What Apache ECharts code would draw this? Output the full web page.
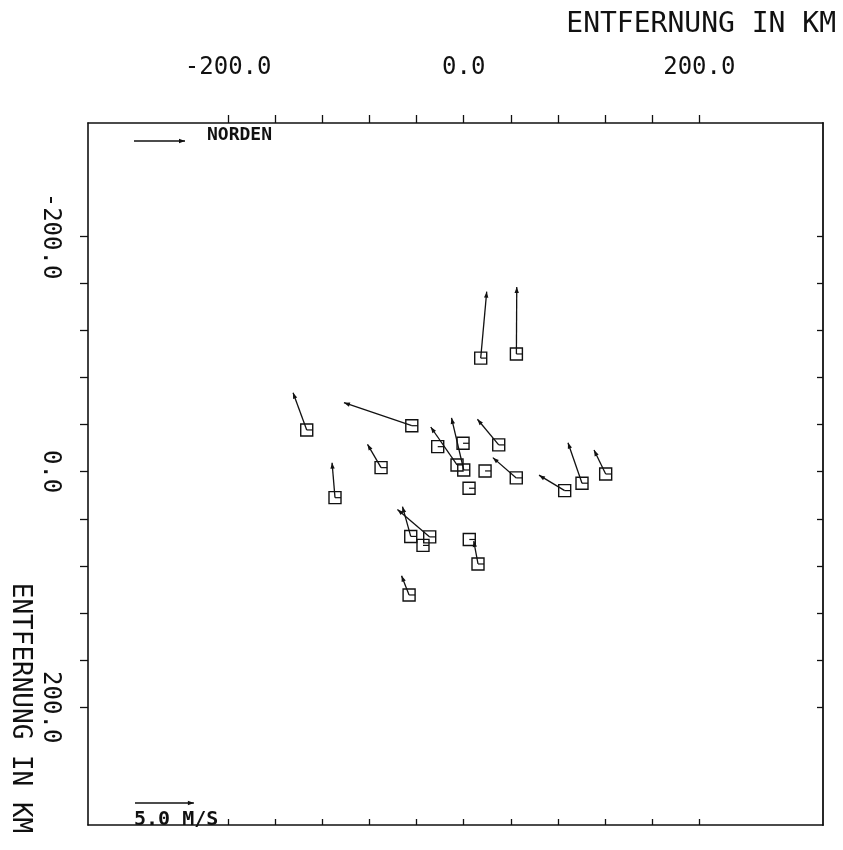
<!DOCTYPE html>
<html>
<head>
<meta charset="utf-8">
<title>Windvektoren</title>
<script src="https://cdn.jsdelivr.net/npm/echarts@6/dist/echarts.min.js"></script>
<style>
  html, body { margin: 0; padding: 0; background: #fff; }
  #chart { width: 843px; height: 850px; }
</style>
</head>
<body>
<div id="chart"></div>
<script>
// Station positions (km) in the plot frame; y grows downward.
const STATION_X = [14.4, 44.7, -133.3, -44.1, -22.1, -0.6, -5.7, 0.0, 29.7, 18.1, 4.5, 44.6,
                   85.7, 100.4, 120.5, -70.2, -109.3, -45.0, -28.9, -34.6, 4.7, 12.1, -46.4];
const STATION_Y = [-96.4, -99.9, -35.4, -39.0, -21.2, -24.1, -5.7, -1.4, -22.7, -0.6, 14.1, 5.3,
                   16.1, 9.8, 2.0, -3.4, 22.1, 55.0, 55.4, 62.6, 57.6, 78.4, 104.7];
// Wind components (m/s) along the plot's x and y axes.
const WIND_X = [0.51, 0.03, -1.16, -5.76, 0, 0, -2.23, -1.04, -1.81, 0, 0, -1.99,
                -2.18, -1.19, -0.99, -1.15, -0.25, -0.70, -2.74, 0, 0, -0.36, -0.64];
const WIND_Y = [-5.64, -5.68, -3.16, -1.95, 0, 0, -3.22, -4.43, -2.18, 0, 0, -1.72,
                -1.31, -3.44, -2.03, -1.98, -2.97, -2.53, -2.33, 0, 0, -1.95, -1.64];

// Axis ticks and labels (km)
const TICKS = [-200, -160, -120, -80, -40, 0, 40, 80, 120, 160, 200];
const TICK_LABELS = [-200, 0, 200];
const X_RANGE = [-319, 305];
const Y_RANGE = [-296, 300];

const AXIS_TITLE = 'ENTFERNUNG IN KM';
const KM_PER_MS = 10.0;     // arrow length: km per m/s
const SCALE_SPEED = 5.0;    // reference arrow speed (m/s)

const FONT = "'DejaVu Sans Mono', 'Liberation Mono', monospace";
const INK = '#111';

const chart = echarts.init(document.getElementById('chart'), null, { renderer: 'canvas' });

const stationData = STATION_X.map((x, i) => [x, STATION_Y[i], WIND_X[i], WIND_Y[i]]);

function arrowHead(tip, from, len, half) {
  const dx = tip[0] - from[0], dy = tip[1] - from[1];
  const d = Math.hypot(dx, dy) || 1;
  const ux = dx / d, uy = dy / d;
  const bx = tip[0] - ux * len, by = tip[1] - uy * len;
  return [[tip[0], tip[1]], [bx - uy * half, by + ux * half], [bx + uy * half, by - ux * half]];
}

function renderStation(params, api) {
  const x = api.value(0), y = api.value(1), wx = api.value(2), wy = api.value(3);
  const p0 = api.coord([x, y]);
  const p1 = api.coord([x + wx * KM_PER_MS, y + wy * KM_PER_MS]);
  const s = 6;
  const children = [
    { type: 'rect', shape: { x: p0[0] - s, y: p0[1] - s, width: 2 * s, height: 2 * s },
      style: { fill: 'none', stroke: INK, lineWidth: 1.4 } },
    { type: 'line', shape: { x1: p0[0], y1: p0[1], x2: p0[0] + s, y2: p0[1] },
      style: { stroke: INK, lineWidth: 1.2 } }
  ];
  if (Math.hypot(p1[0] - p0[0], p1[1] - p0[1]) > 2) {
    children.push({ type: 'line', shape: { x1: p0[0], y1: p0[1], x2: p1[0], y2: p1[1] },
      style: { stroke: INK, lineWidth: 1.3 } });
    children.push({ type: 'polygon', shape: { points: arrowHead(p1, p0, 6, 2.2) },
      style: { fill: INK } });
  }
  return { type: 'group', children };
}

const labelStyle = { color: INK, fontFamily: FONT, fontSize: 24 };
const fmt = v => Number(v).toFixed(1);

chart.setOption({
  backgroundColor: '#fff',
  animation: false,
  grid: { left: 88, top: 123, width: 735, height: 702, outerBoundsMode: 'none', containLabel: false },
  xAxis: [
    {
      type: 'value', position: 'top', min: X_RANGE[0], max: X_RANGE[1],
      axisLine: { show: true, onZero: false, lineStyle: { color: INK, width: 1.6 } },
      axisTick: { show: true, length: 8, customValues: TICKS, lineStyle: { color: INK, width: 1.3 } },
      axisLabel: { ...labelStyle, margin: 43, customValues: TICK_LABELS, formatter: fmt },
      splitLine: { show: false }
    },
    {
      type: 'value', position: 'bottom', min: X_RANGE[0], max: X_RANGE[1],
      axisLine: { show: true, onZero: false, lineStyle: { color: INK, width: 1.6 } },
      axisTick: { show: true, inside: true, length: 6, customValues: TICKS, lineStyle: { color: INK, width: 1.3 } },
      axisLabel: { show: false },
      splitLine: { show: false }
    }
  ],
  yAxis: [
    {
      type: 'value', position: 'left', inverse: true, min: Y_RANGE[0], max: Y_RANGE[1],
      axisLine: { show: true, onZero: false, lineStyle: { color: INK, width: 1.6 } },
      axisTick: { show: true, length: 8, customValues: TICKS, lineStyle: { color: INK, width: 1.3 } },
      axisLabel: { ...labelStyle, margin: 26, rotate: -90, customValues: TICK_LABELS, formatter: fmt },
      splitLine: { show: false }
    },
    {
      type: 'value', position: 'right', inverse: true, min: Y_RANGE[0], max: Y_RANGE[1],
      axisLine: { show: true, onZero: false, lineStyle: { color: INK, width: 1.8 } },
      axisTick: { show: true, inside: true, length: 6, customValues: TICKS, lineStyle: { color: INK, width: 1.3 } },
      axisLabel: { show: false },
      splitLine: { show: false }
    }
  ],
  series: [{
    type: 'custom',
    xAxisIndex: 0, yAxisIndex: 0,
    dimensions: ['x', 'y', 'wx', 'wy'],
    encode: { x: 0, y: 1 },
    data: stationData,
    renderItem: renderStation,
    clip: false,
    silent: true
  }]
});

// Reference arrows and titles
const lenScale = chart.convertToPixel({ xAxisIndex: 0 }, SCALE_SPEED * KM_PER_MS) -
                 chart.convertToPixel({ xAxisIndex: 0 }, 0);

function legendArrow(x0, y0, len) {
  const tip = [x0 + len, y0];
  return [
    { type: 'line', shape: { x1: x0, y1: y0, x2: x0 + len, y2: y0 }, style: { stroke: INK, lineWidth: 1.3 } },
    { type: 'polygon', shape: { points: arrowHead(tip, [x0, y0], 6, 2.2) }, style: { fill: INK } }
  ];
}

chart.setOption({
  graphic: [
    { type: 'text', x: 836, y: 25,
      style: { text: AXIS_TITLE, font: "28px " + FONT, fill: INK, textAlign: 'right', textVerticalAlign: 'middle' } },
    { type: 'text', x: 20, y: 708, rotation: -Math.PI / 2,
      style: { text: AXIS_TITLE, font: "26px " + FONT, fill: INK, textAlign: 'center', textVerticalAlign: 'middle' } },
    ...legendArrow(134, 141, 51),
    { type: 'text', x: 207, y: 135,
      style: { text: 'NORDEN', font: "bold 18px " + FONT, fill: INK, textAlign: 'left', textVerticalAlign: 'middle' } },
    ...legendArrow(135, 803, lenScale),
    { type: 'text', x: 134, y: 820,
      style: { text: SCALE_SPEED.toFixed(1) + ' M/S', font: "bold 20px " + FONT, fill: INK, textAlign: 'left', textVerticalAlign: 'middle' } }
  ]
});
</script>
</body>
</html>
